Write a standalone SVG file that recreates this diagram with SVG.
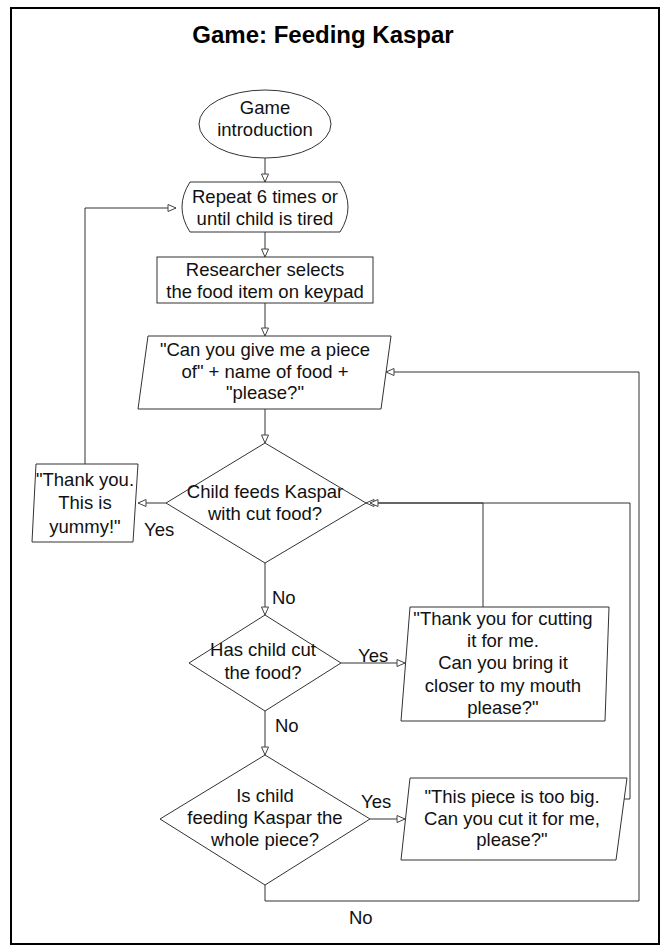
<svg xmlns="http://www.w3.org/2000/svg" width="667" height="952" viewBox="0 0 667 952">
<defs>
<marker id="arr" markerWidth="10" markerHeight="9" refX="9" refY="4" orient="auto" markerUnits="userSpaceOnUse">
<path d="M1,0.5 L9,4 L1,7.5 Z" fill="#fff" stroke="#444" stroke-width="1"/>
</marker>
</defs>
<style>
.t{font-family:"Liberation Sans",Arial,sans-serif;font-size:18.5px;fill:#111;text-anchor:middle}
.l{font-family:"Liberation Sans",Arial,sans-serif;font-size:18.5px;fill:#111}
.s{fill:#fff;stroke:#333;stroke-width:1}
.c{fill:none;stroke:#333;stroke-width:1}
.a{marker-end:url(#arr)}
</style>
<rect x="0" y="0" width="667" height="952" fill="#fff"/>
<rect x="11" y="8" width="648" height="936" fill="none" stroke="#000" stroke-width="2"/>
<text x="323" y="43" style="font-family:'Liberation Sans',Arial,sans-serif;font-size:24px;font-weight:bold;text-anchor:middle;fill:#000">Game: Feeding Kaspar</text>

<g id="connectors">
<path class="c a" d="M265,158 V182"/>
<path class="c a" d="M265,232 V257"/>
<path class="c a" d="M265,303 V336"/>
<path class="c a" d="M265,409 V443"/>
<path class="c a" d="M166,503 H138"/>
<path class="c a" d="M85,464 V208 H176"/>
<path class="c a" d="M265,563 V615"/>
<path class="c a" d="M341,663 H405"/>
<path class="c a" d="M483,607 V503 H366"/>
<path class="c a" d="M265,711 V755"/>
<path class="c a" d="M370,819 H405"/>
<path class="c a" d="M624,799 H630 V503 H370"/>
<path class="c a" d="M265,885 V901 H639 V372 H386"/>
<text class="l" x="144" y="536">Yes</text>
<text class="l" x="272" y="604">No</text>
<text class="l" x="358" y="662">Yes</text>
<text class="l" x="275" y="732">No</text>
<text class="l" x="361" y="808">Yes</text>
<text class="l" x="349" y="924">No</text>
</g>

<g id="start">
<ellipse class="s" cx="265" cy="124" rx="66" ry="34"/>
<text class="t" x="265" y="114">Game</text>
<text class="t" x="265" y="136">introduction</text>
</g>

<g id="repeat">
<path class="s" d="M190,182 L340,182 Q356,207 340,232 L190,232 Q174,207 190,182 Z"/>
<text class="t" x="265" y="203">Repeat 6 times or</text>
<text class="t" x="265" y="225">until child is tired</text>
</g>

<g id="select">
<rect class="s" x="157" y="257" width="216" height="46"/>
<text class="t" x="265" y="276">Researcher selects</text>
<text class="t" x="265" y="298">the food item on keypad</text>
</g>

<g id="ask">
<path class="s" d="M148,336 L391,336 L381,409 L138,409 Z"/>
<text class="t" x="265" y="356">"Can you give me a piece</text>
<text class="t" x="265" y="378">of" + name of food +</text>
<text class="t" x="265" y="399">"please?"</text>
</g>

<g id="thanks">
<path class="s" d="M36,464 L138,464 L133,542 L32,542 Z"/>
<text class="t" x="85" y="486">"Thank you.</text>
<text class="t" x="85" y="509">This is</text>
<text class="t" x="85" y="533">yummy!"</text>
</g>

<g id="decision1">
<path class="s" d="M265,443 L366,503 L265,563 L166,503 Z"/>
<text class="t" x="265" y="498">Child feeds Kaspar</text>
<text class="t" x="265" y="520">with cut food?</text>
</g>

<g id="decision2">
<path class="s" d="M265,615 L341,663 L265,711 L189,663 Z"/>
<text class="t" x="263" y="656">Has child cut</text>
<text class="t" x="263" y="679">the food?</text>
</g>

<g id="closer">
<path class="s" d="M410,607 L609,607 L605,721 L401,721 Z"/>
<text class="t" x="503" y="625">"Thank you for cutting</text>
<text class="t" x="503" y="647">it for me.</text>
<text class="t" x="503" y="669">Can you bring it</text>
<text class="t" x="503" y="692">closer to my mouth</text>
<text class="t" x="503" y="714">please?"</text>
</g>

<g id="decision3">
<path class="s" d="M265,755 L370,819 L265,885 L160,819 Z"/>
<text class="t" x="265" y="802">Is child</text>
<text class="t" x="265" y="824">feeding Kaspar the</text>
<text class="t" x="265" y="846">whole piece?</text>
</g>

<g id="toobig">
<path class="s" d="M410,778 L627,778 L616,860 L401,860 Z"/>
<text class="t" x="512" y="803">"This piece is too big.</text>
<text class="t" x="512" y="825">Can you cut it for me,</text>
<text class="t" x="512" y="846">please?"</text>
</g>
</svg>
